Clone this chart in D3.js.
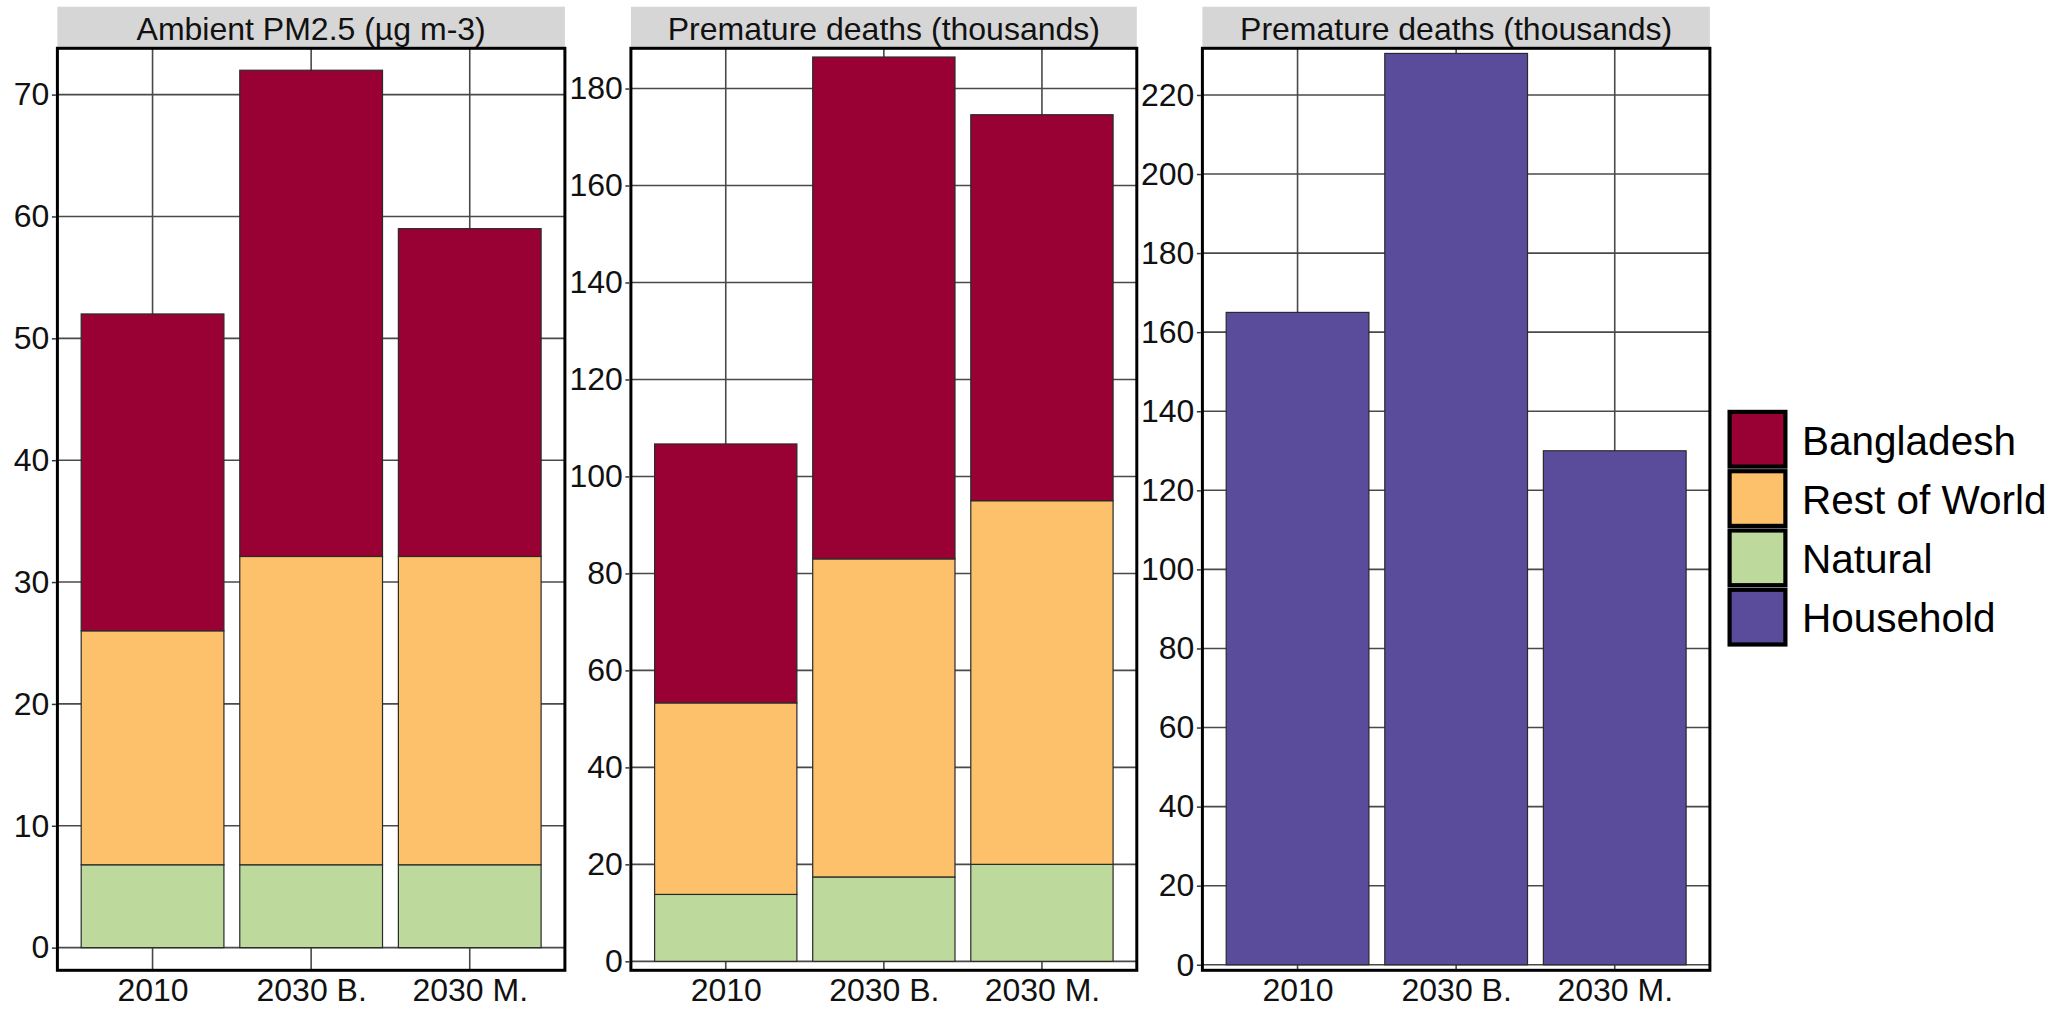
<!DOCTYPE html>
<html>
<head>
<meta charset="utf-8">
<script src="https://cdn.jsdelivr.net/npm/d3@7"></script>
<style>
  html, body { margin: 0; padding: 0; background: #fff; }
  svg { display: block; font-family: "Liberation Sans", Arial, sans-serif; }
</style>
</head>
<body>
<svg id="chart" width="2072" height="1009"></svg>
<script>
// Scenario categories on the x axis
const categories = ["2010", "2030 B.", "2030 M."];

// Ambient PM2.5 contributions (µg m-3), stacked bottom to top
const pmNatural = [6.8, 6.8, 6.8];
const pmRestOfWorld = [19.2, 25.3, 25.3];
const pmBangladesh = [26.0, 39.9, 26.9];

// Premature deaths from ambient PM2.5 (thousands), stacked bottom to top
const deathsNatural = [13.8, 17.4, 20.0];
const deathsRestOfWorld = [39.5, 65.6, 75.0];
const deathsBangladesh = [53.4, 103.5, 79.6];

// Premature deaths from household air pollution (thousands)
const deathsHousehold = [165, 230.5, 130];

// Axis tick labels for each panel
const pmTicks = [0, 10, 20, 30, 40, 50, 60, 70];
const ambientDeathTicks = [0, 20, 40, 60, 80, 100, 120, 140, 160, 180];
const householdDeathTicks = [0, 20, 40, 60, 80, 100, 120, 140, 160, 180, 200, 220];

const panelTitles = ["Ambient PM2.5 (µg m-3)", "Premature deaths (thousands)", "Premature deaths (thousands)"];
const sourceNames = ["Bangladesh", "Rest of World", "Natural", "Household"];

const colors = {
  "Bangladesh": "#990033",
  "Rest of World": "#FDC06B",
  "Natural": "#BDD99B",
  "Household": "#5B4B9B"
};

// Panel definitions: layers are listed bottom to top
const panels = [
  {
    title: panelTitles[0],
    layers: [["Natural", pmNatural], ["Rest of World", pmRestOfWorld], ["Bangladesh", pmBangladesh]],
    ticks: pmTicks,
    yDomain: [-1.86, 73.8],
    x0: 57.4, x1: 564.9
  },
  {
    title: panelTitles[1],
    layers: [["Natural", deathsNatural], ["Rest of World", deathsRestOfWorld], ["Bangladesh", deathsBangladesh]],
    ticks: ambientDeathTicks,
    yDomain: [-1.85, 188.3],
    x0: 630.9, x1: 1136.8
  },
  {
    title: panelTitles[2],
    layers: [["Household", deathsHousehold]],
    ticks: householdDeathTicks,
    yDomain: [-1.4, 231.8],
    x0: 1202.4, x1: 1709.9
  }
];

const svg = d3.select("#chart");
svg.append("rect").attr("width", 2072).attr("height", 1009).attr("fill", "#fff");

const stripTop = 6.7, stripBottom = 47.5;
const plotTop = 48.3, plotBottom = 970.3;
const fontSize = 32;
const gridColor = "#4a4a4a";

panels.forEach(p => {
  const g = svg.append("g");
  const x = d3.scaleLinear().domain([0.4, 3.6]).range([p.x0, p.x1]);
  const y = d3.scaleLinear().domain(p.yDomain).range([plotBottom, plotTop]);
  const barW = x(1.45) - x(0.55);

  // strip header
  g.append("rect")
    .attr("x", p.x0).attr("y", stripTop)
    .attr("width", p.x1 - p.x0).attr("height", stripBottom - stripTop)
    .attr("fill", "#d6d6d6");
  g.append("text")
    .attr("x", (p.x0 + p.x1) / 2).attr("y", 39.5)
    .attr("text-anchor", "middle")
    .attr("font-size", fontSize).attr("fill", "#111")
    .text(p.title);

  // grid lines
  g.append("g").selectAll("line").data(p.ticks).join("line")
    .attr("x1", p.x0).attr("x2", p.x1)
    .attr("y1", d => y(d)).attr("y2", d => y(d))
    .attr("stroke", gridColor).attr("stroke-width", 1.6);
  g.append("g").selectAll("line").data(categories).join("line")
    .attr("x1", (d, i) => x(i + 1)).attr("x2", (d, i) => x(i + 1))
    .attr("y1", plotTop).attr("y2", plotBottom)
    .attr("stroke", gridColor).attr("stroke-width", 1.6);

  // stacked bars
  const cum = categories.map(() => 0);
  p.layers.forEach(([name, values]) => {
    const segs = values.map((v, i) => {
      const s = { i, y0: cum[i], y1: cum[i] + v };
      cum[i] += v;
      return s;
    });
    g.append("g").selectAll("rect").data(segs).join("rect")
      .attr("x", d => x(d.i + 1) - barW / 2)
      .attr("width", barW)
      .attr("y", d => y(d.y1))
      .attr("height", d => y(d.y0) - y(d.y1))
      .attr("fill", colors[name])
      .attr("stroke", "#2a2a2a").attr("stroke-width", 1.2);
  });

  // panel frame
  g.append("rect")
    .attr("x", p.x0).attr("y", plotTop)
    .attr("width", p.x1 - p.x0).attr("height", plotBottom - plotTop)
    .attr("fill", "none").attr("stroke", "#000").attr("stroke-width", 3);

  // y axis
  const yAxis = d3.axisLeft(y).tickValues(p.ticks).tickSize(4).tickPadding(2.5).tickFormat(d3.format("d"));
  const ya = g.append("g").attr("transform", `translate(${p.x0 - 1.5},0)`).call(yAxis);
  ya.select(".domain").remove();
  ya.selectAll(".tick line").attr("stroke", "#333").attr("stroke-width", 1.5);
  ya.selectAll(".tick text").attr("font-size", fontSize).attr("fill", "#111")
    .attr("font-family", "Liberation Sans, Arial, sans-serif");

  // x axis labels
  const xAxis = d3.axisBottom(x).tickValues([1, 2, 3]).tickSize(0).tickFormat((d, i) => categories[i]);
  const xa = g.append("g").attr("transform", `translate(0,${plotBottom})`).call(xAxis);
  xa.select(".domain").remove();
  xa.selectAll(".tick text").attr("font-size", fontSize).attr("fill", "#111")
    .attr("font-family", "Liberation Sans, Arial, sans-serif")
    .attr("y", 31).attr("dy", null);
});

// legend
const legend = svg.append("g");
const lgX = 1729.6, lgY = 411.9, lgPitch = 59.3, lgW = 55.8, lgH = 54.7;
const lgBaselines = [455, 513.5, 573.3, 631.7];
sourceNames.forEach((name, i) => {
  const yy = lgY + i * lgPitch;
  legend.append("rect")
    .attr("x", lgX).attr("y", yy)
    .attr("width", lgW).attr("height", lgH)
    .attr("fill", colors[name])
    .attr("stroke", "#000").attr("stroke-width", 4.2);
  legend.append("text")
    .attr("x", 1802).attr("y", lgBaselines[i])
    .attr("font-size", 40.5).attr("fill", "#000")
    .text(name);
});
</script>
</body>
</html>
